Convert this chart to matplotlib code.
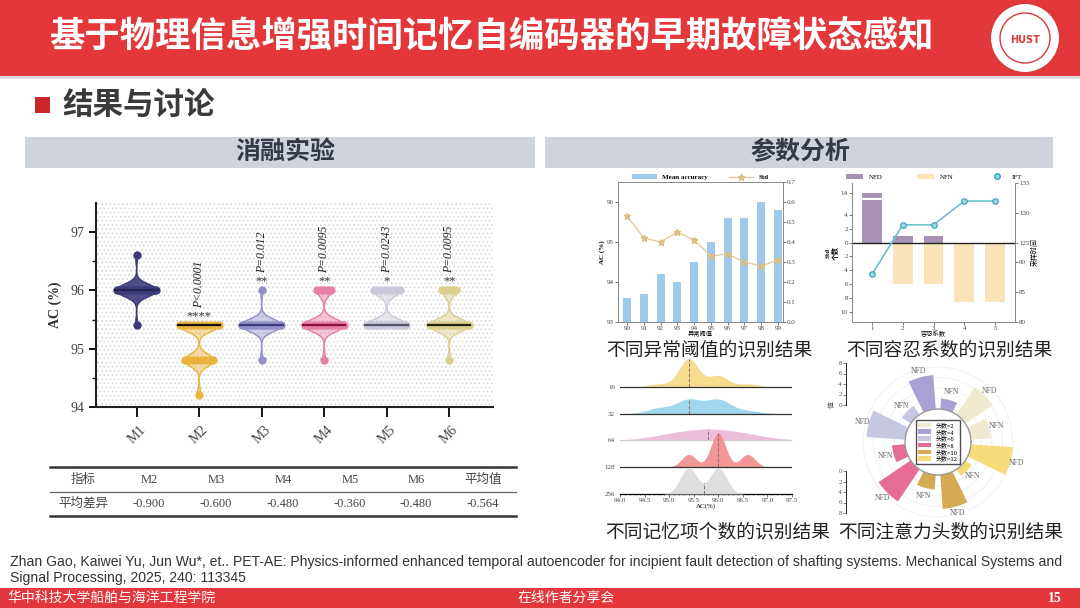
#!/usr/bin/env python3
"""
Slide: early fault state perception with PET-AE (ablation + parameter analysis)
"""

import numpy as np
import matplotlib
matplotlib.use("Agg")
import matplotlib.pyplot as plt
from matplotlib.patches import Rectangle, Circle, Patch
from matplotlib.lines import Line2D

plt.rcParams['font.family'] = ['Liberation Serif', 'Noto Sans CJK SC']
plt.rcParams['hatch.linewidth'] = 0.6
CJK = ['Noto Sans CJK SC', 'DejaVu Sans']
SERIF = ['Liberation Serif', 'Noto Sans CJK SC']

W, H = 1080, 608
RED = '#e3373b'

# ---- ablation experiment (violin) ----
models = ['M1', 'M2', 'M3', 'M4', 'M5', 'M6']
ac_levels = [[96.6, 96.0, 95.4], [95.4, 94.8, 94.2], [96.0, 95.4, 94.8],
             [96.0, 95.4, 94.8], [96.0, 95.4], [96.0, 95.4, 94.8]]
ac_counts = [[1, 18, 1], [11, 8, 1], [1, 18, 1], [5, 14, 1], [8, 12], [5, 14, 1]]
stars = ['', '****', '**', '**', '*', '**']
p_values = ['', 'P<0.0001', 'P=0.012', 'P=0.0095', 'P=0.0243', 'P=0.0095']
model_colors = ['#3c3b78', '#e9b33d', '#9190c8', '#e67fa6', '#c8c8d8', '#dbcf8f']
median_colors = ['#24234f', '#111111', '#3c3b78', '#8b1040', '#55556a', '#222211']

table_header = ['指标', 'M2', 'M3', 'M4', 'M5', 'M6', '平均值']
table_row_name = '平均差异'
mean_diff = [-0.900, -0.600, -0.480, -0.360, -0.480, -0.564]

# ---- anomaly threshold ----
thresholds = [90, 91, 92, 93, 94, 95, 96, 97, 98, 99]
mean_acc = [93.6, 93.7, 94.2, 94.0, 94.5, 95.0, 95.6, 95.6, 96.0, 95.8]
std_acc = [0.53, 0.42, 0.40, 0.45, 0.41, 0.33, 0.34, 0.30, 0.28, 0.31]

# ---- tolerance coefficient ----
tolerance = [1, 2, 3, 4, 5]
nfd_tol = [14, 1, 1, 0, 0]
nfn_tol = [0, 6, 6, 8.5, 8.5]
ift_tol = [88, 128, 128, 132, 132]

# ---- memory items (ridge) ----
mem_sizes = ['16', '32', '64', '128', '256']
mem_levels = [[94.8, 95.4, 96.0, 96.6], [94.8, 95.4, 96.0, 96.6],
              [94.6, 95.2, 95.8, 96.4, 97.0], [95.4, 96.0, 96.6], [95.4, 96.0]]
mem_counts = [[1, 10, 4, 1], [2, 5, 5, 1], [1, 3, 4, 3, 1], [3, 8, 3], [5, 5]]
mem_bw = [0.2, 0.25, 0.35, 0.15, 0.17]
mem_colors = ['#f5d67a', '#8fcfec', '#eab3d6', '#f08585', '#d9d9d9']

# ---- attention heads (polar) ----
heads = [2, 4, 6, 8, 10, 12]
head_nfd = [6.3, 6.5, 7.4, 7.4, 6.5, 8.0]
head_nfn = [3.8, 2.0, 2.0, 2.5, 2.8, 1.5]
head_colors = ['#efe9cf', '#a9a1d3', '#c5c8e0', '#e66c98', '#d4aa55', '#f6dc78']


def px_rect(x0, y0, x1, y1):
    return [x0 / W, 1 - y1 / H, (x1 - x0) / W, (y1 - y0) / H]


def kde(levels, counts, grid, bw):
    lv = np.asarray(levels, float)[:, None]
    cn = np.asarray(counts, float)[:, None]
    g = np.exp(-0.5 * ((grid[None, :] - lv) / bw) ** 2)
    return (cn * g).sum(0) / (cn.sum() * bw * np.sqrt(2 * np.pi))


fig = plt.figure(figsize=(10.8, 6.08), dpi=100)

# ---------------- slide background ----------------
bg = fig.add_axes([0, 0, 1, 1])
bg.set_xlim(0, W)
bg.set_ylim(H, 0)
bg.axis('off')

bg.add_patch(Rectangle((0, 0), W, 76, color=RED, lw=0))
bg.add_patch(Rectangle((0, 76), W, 3, color='#dcdcdc', lw=0))
bg.text(491, 37, '基于物理信息增强时间记忆自编码器的早期故障状态感知', color='white',
        fontsize=25.5, fontweight='bold', family=CJK, ha='center', va='center')

# logo
bg.add_patch(Circle((1025, 38), 35, facecolor='white', edgecolor='#d93a3a', lw=1.5))
bg.add_patch(Circle((1025, 38), 25, facecolor='none', edgecolor='#d93a3a', lw=1.0))
bg.text(1025, 40, 'HUST', color='#d93a3a', fontsize=7, fontweight='bold',
        ha='center', va='center', family='DejaVu Sans')

bg.add_patch(Rectangle((35, 97), 15, 16, color='#c8282c', lw=0))
bg.text(62, 105, '结果与讨论', fontsize=22, fontweight='bold', color='#3a3a3a',
        va='center', family=CJK)

bg.add_patch(Rectangle((25, 137), 510, 31, color='#cfd3dc', lw=0))
bg.add_patch(Rectangle((545, 137), 508, 31, color='#cfd3dc', lw=0))
bg.text(285, 152, '消融实验', fontsize=18, fontweight='bold', color='#333a45',
        ha='center', va='center', family=CJK)
bg.text(800, 152, '参数分析', fontsize=18, fontweight='bold', color='#333a45',
        ha='center', va='center', family=CJK)

# table
col_x = [83, 149, 216, 283, 350, 416, 483]
bg.plot([50, 516], [467, 467], color='#333333', lw=1.8)
bg.plot([50, 516], [492, 492], color='#666666', lw=0.9)
bg.plot([50, 516], [516, 516], color='#333333', lw=1.8)
row_vals = [table_row_name] + [f'{v:.3f}' for v in mean_diff]
for x, hd, rv in zip(col_x, table_header, row_vals):
    bg.text(x, 480, hd, ha='center', va='center', fontsize=9, color='#444444', family=SERIF)
    bg.text(x, 504, rv, ha='center', va='center', fontsize=9, color='#444444', family=SERIF)

# captions
bg.text(709, 350, '不同异常阈值的识别结果', fontsize=13.5, ha='center', va='center',
        color='#222222', family=CJK)
bg.text(949, 350, '不同容忍系数的识别结果', fontsize=13.5, ha='center', va='center',
        color='#222222', family=CJK)
bg.text(718, 532, '不同记忆项个数的识别结果', fontsize=13.5, ha='center', va='center',
        color='#222222', family=CJK)
bg.text(951, 532, '不同注意力头数的识别结果', fontsize=13.5, ha='center', va='center',
        color='#222222', family=CJK)

# citation
cite1 = ('Zhan Gao, Kaiwei Yu, Jun Wu*, et.. PET-AE: Physics-informed enhanced temporal '
         'autoencoder for incipient fault detection of shafting systems. Mechanical Systems and')
cite2 = 'Signal Processing, 2025, 240: 113345'
bg.text(10, 562, cite1, fontsize=10.1, family='Liberation Sans', color='#333333', va='center')
bg.text(10, 578, cite2, fontsize=10.1, family='Liberation Sans', color='#333333', va='center')

# footer
bg.add_patch(Rectangle((0, 588), W, 20, color=RED, lw=0))
bg.text(7, 598, '华中科技大学船舶与海洋工程学院', fontsize=10, color='white', va='center', family=CJK)
bg.text(517, 598, '在线作者分享会', fontsize=10, color='white', va='center', family=CJK)
bg.text(1062, 598, '15', fontsize=10, color='white', va='center', ha='right',
        fontweight='bold', family=SERIF)

# ---------------- violin plot ----------------
axv = fig.add_axes(px_rect(96, 203, 493, 407))
axv.add_patch(Rectangle((0, 0), 1, 1, transform=axv.transAxes, facecolor='white',
                        edgecolor='#d4d4d4', hatch='....', lw=0, zorder=0))
for i, (lv, cn) in enumerate(zip(ac_levels, ac_counts)):
    x0 = i + 1
    col = model_colors[i]
    grid = np.linspace(min(lv), max(lv), 400)
    d = kde(lv, cn, grid, 0.1)
    half = d / d.max() * 0.34
    axv.fill_betweenx(grid, x0 - half, x0 + half, facecolor=col,
                      alpha=0.9 if i == 0 else 0.45, edgecolor='none', zorder=2)
    axv.plot(x0 - half, grid, color=col, lw=1, zorder=3)
    axv.plot(x0 + half, grid, color=col, lw=1, zorder=3)
    for v, c in zip(lv, cn):
        w = np.interp(v, grid, half) * 0.92
        xs = x0 + np.linspace(-w, w, c) if c > 1 else np.array([x0])
        axv.scatter(xs, np.full(len(xs), v), s=36, color=col, lw=0, zorder=4)
    med = np.median(np.repeat(lv, cn))
    wm = np.interp(med, grid, half)
    axv.plot([x0 - wm, x0 + wm], [med, med], color=median_colors[i], lw=1.6, zorder=5)
    top = max(lv)
    if stars[i]:
        axv.text(x0, top + 0.06, stars[i], ha='center', va='bottom', fontsize=9,
                 color='#333333', zorder=6)
        axv.text(x0, top + 0.3, p_values[i], ha='center', va='bottom', rotation=90,
                 fontsize=8.5, style='italic', color='#222222', zorder=6)

axv.set_xlim(0.35, 6.7)
axv.set_ylim(94, 97.5)
axv.set_yticks([94, 95, 96, 97])
axv.set_yticks([94.5, 95.5, 96.5], minor=True)
axv.set_xticks(range(1, 7))
axv.set_xticklabels(models, rotation=45, fontsize=10, color='#444444')
axv.tick_params(axis='y', labelsize=10, labelcolor='#444444', width=1.3, length=5)
axv.tick_params(axis='y', which='minor', width=1.0, length=3)
axv.tick_params(axis='x', width=1.3, length=7, pad=5)
for s in ['top', 'right']:
    axv.spines[s].set_visible(False)
for s in ['left', 'bottom']:
    axv.spines[s].set_linewidth(1.5)
    axv.spines[s].set_color('#222222')
axv.set_ylabel('AC (%)', fontsize=10, fontweight='bold', color='#333333', labelpad=6)

# ---------------- anomaly threshold chart ----------------
ax1 = fig.add_axes(px_rect(618, 182, 783, 322))
ax1.bar(thresholds, mean_acc, width=0.48, color='#9ecae9', label='Mean accuracy')
ax1.set_ylim(93, 96.5)
ax1.set_xlim(89.46, 99.3)
ax1.set_xticks(thresholds)
ax1.set_yticks([93, 94, 95, 96])
ax1.tick_params(labelsize=5, length=2, width=0.5, colors='#444444', pad=1)
ax1.set_ylabel('AC (%)', fontsize=5, fontweight='bold', labelpad=1)
ax1.set_xlabel('异常阈值', fontsize=4.5, family=CJK, labelpad=-1)
t1 = ax1.twinx()
t1.plot(thresholds, std_acc, color='#e6cc98', lw=1, marker='*', ms=5,
        mfc='#e8d6a6', mec='#d9bb7d', label='Std')
t1.set_ylim(0, 0.7)
t1.set_yticks(np.arange(0, 0.71, 0.1))
t1.set_yticklabels([f'{v:.1f}' for v in np.arange(0, 0.71, 0.1)])
t1.tick_params(labelsize=5, length=2, width=0.5, colors='#444444', pad=1)
for a in (ax1, t1):
    for s in a.spines.values():
        s.set_linewidth(0.6)
        s.set_color('#888888')
h1, l1 = ax1.get_legend_handles_labels()
h2, l2 = t1.get_legend_handles_labels()
ax1.legend(h1 + h2, l1 + l2, loc='lower center', bbox_to_anchor=(0.5, 0.97), ncol=2,
           frameon=False, prop={'size': 5, 'weight': 'bold'}, columnspacing=3,
           handlelength=3.5)


# ---------------- tolerance chart ----------------
def left_map(v):
    return v if v <= 5 else 6.2 + (v - 13)


def right_map(v):
    v = np.asarray(v, float)
    return np.where(v >= 125, (v - 125) * 6 / 7, -(20 + (90 - v) * 6) / 7)


ax2 = fig.add_axes(px_rect(852, 183, 1015, 322))
ax2.bar(tolerance, [left_map(v) for v in nfd_tol], width=0.65, color='#a893b6', label='NFD')
ax2.bar(tolerance, [-v for v in nfn_tol], width=0.65, color='#fae3b8', label='NFN')
ax2.plot([tolerance[0] - 0.34, tolerance[0] + 0.34], [6.3, 6.3], color='white', lw=1.5)
ax2.axhline(0, color='#222222', lw=1)
ax2.set_ylim(-11.45, 8.6)
ax2.set_xlim(0.35, 5.65)
lt = [-10, -8, -6, -4, -2, 0, 2, 4, left_map(14)]
ax2.set_yticks(lt)
ax2.set_yticklabels(['10', '8', '6', '4', '2', '0', '2', '4', '14'])
ax2.set_xticks(tolerance)
ax2.tick_params(labelsize=5, length=2, width=0.5, colors='#444444', pad=1)
ax2.set_ylabel('Std\n个数', fontsize=5, fontweight='bold', family=SERIF, labelpad=1)
ax2.set_xlabel('容忍系数', fontsize=4.5, family=CJK, labelpad=-1)
t2 = ax2.twinx()
t2.plot(tolerance, right_map(ift_tol), color='#6cc0cf', lw=1.2, marker='o', ms=4,
        mfc='#9ad7e2', mec='#3a9fb0', mew=0.8, label='IFT')
t2.set_ylim(-11.45, 8.6)
rt_vals = [80, 85, 90, 125, 130, 135]
t2.set_yticks(right_map(rt_vals))
t2.set_yticklabels([str(v) for v in rt_vals])
t2.tick_params(labelsize=5, length=2, width=0.5, colors='#444444', pad=1)
t2.set_ylabel('采样时间', fontsize=5, family=CJK, labelpad=1)
for a in (ax2, t2):
    a.spines['top'].set_visible(False)
    for s in a.spines.values():
        s.set_linewidth(0.6)
        s.set_color('#888888')
h1, l1 = ax2.get_legend_handles_labels()
h2, l2 = t2.get_legend_handles_labels()
ax2.legend(h1 + [Line2D([], [], ls='none', marker='o', ms=4, mfc='#9ad7e2', mec='#3a9fb0')],
           l1 + l2, loc='lower center', bbox_to_anchor=(0.5, 0.98), ncol=3, frameon=False,
           prop={'size': 5}, columnspacing=5, handlelength=2.5)

# ---------------- memory items ridge ----------------
axr = fig.add_axes(px_rect(620, 352, 792, 494))
axr.patch.set_alpha(0)
grid = np.linspace(94.0, 97.5, 500)
dens = [kde(lv, cn, grid, bw) for lv, cn, bw in zip(mem_levels, mem_counts, mem_bw)]
scale = 1.27 / max(d.max() for d in dens)
n = len(mem_sizes)
for i, (d, col) in enumerate(zip(dens, mem_colors)):
    base = n - 1 - i
    yy = base + d * scale
    mask = d * scale > 0.01
    axr.fill_between(grid[mask], base, yy[mask], color=col, alpha=0.85, lw=0, zorder=2 + i)
    med = np.median(np.repeat(mem_levels[i], mem_counts[i]))
    axr.plot([med, med], [base, base + np.interp(med, grid, d) * scale], ls='--',
             color='#9a6a6a', lw=0.7, zorder=2 + i)
    if base > 0:
        axr.axhline(base, color='#cccccc' if i == 2 else '#333333', lw=0.9, zorder=2 + i)
axr.set_xlim(94.0, 97.5)
axr.set_ylim(0, 5.3)
axr.set_yticks(range(n))
axr.set_yticklabels(mem_sizes[::-1])
axr.set_xticks(np.arange(94.0, 97.51, 0.5))
axr.set_xticklabels([f'{v:.1f}' for v in np.arange(94.0, 97.51, 0.5)])
axr.set_xticks(np.arange(94.0, 97.51, 0.1), minor=True)
axr.tick_params(axis='y', length=0, labelsize=5, colors='#444444')
axr.tick_params(axis='x', labelsize=5, length=2, width=0.5, colors='#444444', pad=1)
axr.tick_params(axis='x', which='minor', length=1, width=0.4)
for s in ['top', 'right', 'left']:
    axr.spines[s].set_visible(False)
axr.spines['bottom'].set_linewidth(0.9)
axr.set_xlabel('AC(%)', fontsize=5, labelpad=0)

# ---------------- attention heads polar ----------------
inner = 6.3
axp = fig.add_axes(px_rect(860, 364, 1016, 520), projection='polar')
axp.patch.set_alpha(0)
width = np.deg2rad(22)
for i, (h, vd, vn, col) in enumerate(zip(heads, head_nfd, head_nfn, head_colors)):
    th_d = np.deg2rad(45 + 60 * i)
    th_n = th_d - np.deg2rad(30)
    axp.bar(th_d, vd, width=width, bottom=inner, color=col, lw=0, zorder=3,
            label=f'头数={h}')
    axp.bar(th_n, vn, width=width, bottom=inner, color=col, lw=0, zorder=3)
    axp.text(th_d, inner + vd + 1.3, 'NFD', fontsize=5.5, color='#666666',
             ha='center', va='center')
    axp.text(th_n, inner + vn + 1.5, 'NFN', fontsize=5.5, color='#666666',
             ha='center', va='center')
ring = np.linspace(0, 2 * np.pi, 300)
axp.plot(ring, np.full_like(ring, inner), color='#999999', lw=1.0, zorder=4)
axp.set_ylim(0, inner + 8.6)
axp.set_rticks([inner + 2, inner + 4, inner + 6, inner + 8])
axp.set_yticklabels([])
axp.set_xticks([])
axp.grid(True, color='#eeeeee', lw=0.6)
axp.spines['polar'].set_visible(False)
axp.legend(loc='center', frameon=True, edgecolor='#222222', fancybox=False,
           handlelength=2.2, handleheight=0.8, borderpad=0.4, labelspacing=0.15,
           prop={'family': CJK, 'size': 4.3})

for y0, y1, inv in [(363, 405, False), (471, 513, True)]:
    axs = fig.add_axes(px_rect(846, y0, 848, y1))
    axs.set_ylim((8, 0) if inv else (0, 8))
    axs.set_yticks([0, 2, 4, 6, 8])
    axs.set_xticks([])
    axs.tick_params(labelsize=5, length=2, width=0.5, colors='#555555', pad=1)
    for s in ['top', 'right', 'bottom']:
        axs.spines[s].set_visible(False)
    axs.spines['left'].set_linewidth(0.6)
    axs.patch.set_alpha(0)
bg.text(832, 405, '值', fontsize=5, rotation=90, ha='center', va='center', family=CJK,
        color='#555555')

fig.savefig('out.png', dpi=100)
